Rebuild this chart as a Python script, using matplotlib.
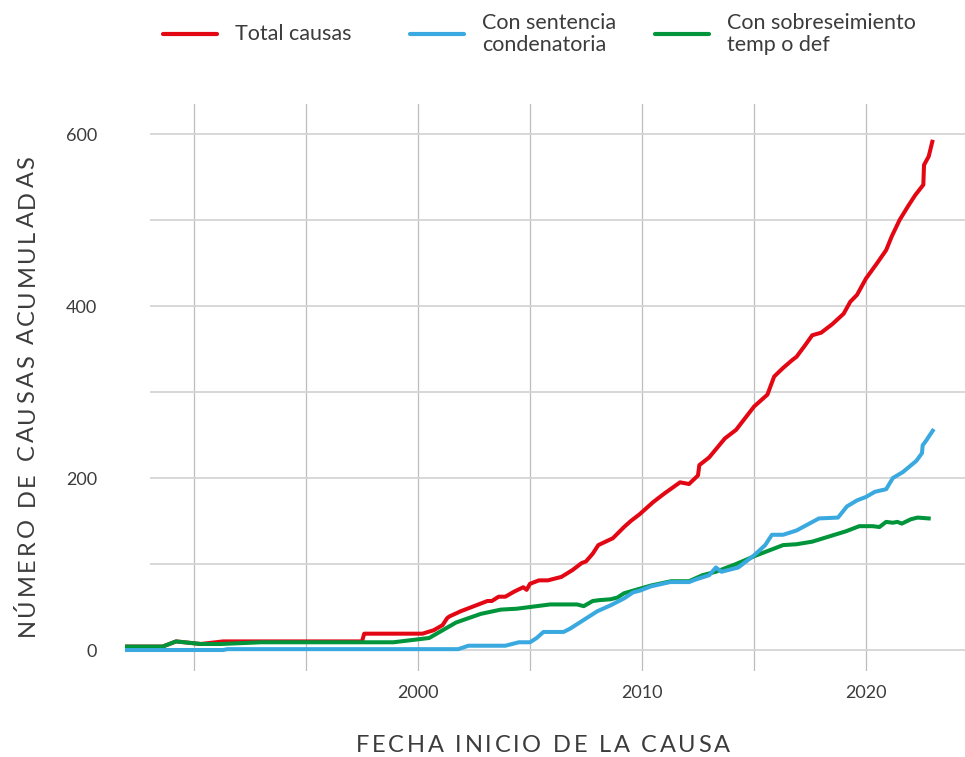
import matplotlib.pyplot as plt
from matplotlib.font_manager import FontProperties
from matplotlib.lines import Line2D

# data (year, accumulated cases)
total_years = [1986.9, 1988.6, 1989.2, 1990.3, 1991.3, 1997.5, 1997.6, 2000.2, 2000.7,
               2001.1, 2001.3, 2001.4, 2001.9, 2003.1, 2003.3, 2003.6, 2003.9, 2004.3,
               2004.7, 2004.85, 2005.0, 2005.4, 2005.8, 2006.4, 2006.9, 2007.3, 2007.5,
               2007.8, 2008.05, 2008.7, 2009.2, 2009.5, 2009.9, 2010.5, 2011.0, 2011.7,
               2012.1, 2012.5, 2012.56, 2013.0, 2013.7, 2014.2, 2015.0, 2015.6, 2015.9,
               2016.3, 2016.7, 2016.9, 2017.3, 2017.6, 2018.0, 2018.5, 2019.0, 2019.3,
               2019.6, 2020.0, 2020.5, 2020.9, 2021.15, 2021.5, 2021.9, 2022.2, 2022.56,
               2022.59, 2022.8, 2022.96]
total_vals = [4, 4, 10, 7, 10, 10, 19, 19, 23,
              29, 37, 39, 45, 57, 57, 62, 62, 68,
              73, 70, 77, 81, 81, 85, 93, 101, 103,
              112, 122, 130, 143, 150, 158, 172, 182, 195,
              193, 203, 215, 224, 246, 256, 283, 297, 318,
              328, 337, 341, 355, 366, 369, 379, 391, 405,
              413, 432, 450, 465, 481, 500, 517, 529, 541,
              564, 574, 591]

conden_years = [1986.9, 1991.3, 1991.5, 2001.8, 2002.25, 2003.9, 2004.5, 2005.0, 2005.3,
                2005.6, 2006.5, 2006.8, 2007.4, 2008.0, 2008.6, 2009.2, 2009.6, 2009.9,
                2010.4, 2011.25, 2012.1, 2012.4, 2013.0, 2013.3, 2013.55, 2014.3, 2015.0,
                2015.5, 2015.8, 2016.3, 2016.9, 2017.9, 2018.75, 2019.15, 2019.6, 2020.0,
                2020.4, 2020.9, 2021.2, 2021.65, 2022.25, 2022.5, 2022.53, 2022.7, 2022.8,
                2022.98]
conden_vals = [0, 0, 1, 1, 5, 5, 9, 9, 14,
               21, 21, 25, 35, 45, 52, 60, 67, 69,
               74, 79, 79, 82, 87, 96, 91, 96, 110,
               122, 134, 134, 139, 153, 154, 167, 174, 178,
               184, 187, 200, 207, 220, 229, 238, 244, 248,
               255]

sobres_years = [1986.9, 1988.6, 1989.2, 1990.3, 1991.2, 1993.0, 1998.9, 2000.5, 2001.1,
                2001.7, 2002.8, 2003.7, 2004.4, 2005.9, 2007.1, 2007.4, 2007.8, 2008.1,
                2008.6, 2008.9, 2009.2, 2010.4, 2011.3, 2012.1, 2012.7, 2013.3, 2014.2,
                2015.1, 2015.7, 2016.3, 2016.9, 2017.6, 2018.1, 2019.1, 2019.7, 2020.3,
                2020.6, 2020.9, 2021.2, 2021.4, 2021.6, 2022.0, 2022.3, 2022.8]
sobres_vals = [4, 4, 10, 7, 7, 9, 9, 14, 23,
               32, 42, 47, 48, 53, 53, 51, 57, 58,
               59, 61, 66, 75, 80, 80, 87, 91, 100,
               110, 116, 122, 123, 126, 130, 138, 144, 144,
               143, 149, 148, 149, 147, 152, 154, 153]

red = "#e30613"
blue = "#3aa9df"
green = "#00953b"
text_col = "#3c3c3c"
font = "Lato"
W, H = 965, 757

fig = plt.figure(figsize=(W / 100, H / 100), dpi=100)
ax = fig.add_axes([125 / W, 86 / H, 840 / W, 567 / H])
ax.set_xlim(1986.92, 2024.42)
ax.set_ylim(-24.4, 634.9)
for s in ax.spines.values():
    s.set_visible(False)

# grid: vertical lines full height, horizontal ones start a bit right
for yr in range(1990, 2021, 5):
    ax.axvline(yr, color="#bdbdbd", lw=0.9, zorder=0)
ax.hlines(range(0, 601, 100), 1988.04, 2024.42, color="#d4d4d4", lw=1.3, zorder=0)

ax.plot(total_years, total_vals, color=red, lw=2.9, solid_joinstyle="round", zorder=2)
ax.plot(sobres_years, sobres_vals, color=green, lw=2.9, solid_joinstyle="round", zorder=3)
ax.plot(conden_years, conden_vals, color=blue, lw=2.9, solid_joinstyle="round", zorder=4)

ax.set_xticks([2000, 2010, 2020])
ax.set_yticks([0, 200, 400, 600])
ax.tick_params(length=0, labelsize=13, labelcolor=text_col)
ax.tick_params(axis="y", pad=20)
ax.tick_params(axis="x", pad=10)
for lab in ax.get_xticklabels() + ax.get_yticklabels():
    lab.set_fontfamily(font)

# axis titles with letter spacing, one character at a time
renderer = fig.canvas.get_renderer()
title_fp = FontProperties(family=font, size=17)


def text_w(s):
    w, _, _ = renderer.get_text_width_height_descent(s, title_fp, ismath=False)
    return w


def spaced_title(s, cx, cy, vertical=False, gap=2.75):
    ref = text_w("I")
    offs = [text_w(s[:i] + "I") - ref + i * gap for i in range(len(s))]
    total = text_w(s) + gap * (len(s) - 1)
    for ch, off in zip(s, offs):
        if ch == " ":
            continue
        if vertical:
            x, y = cx, cy - total / 2 + off
            rot = 90
        else:
            x, y = cx - total / 2 + off, cy
            rot = 0
        fig.text(x / W, y / H, ch, rotation=rot, rotation_mode="anchor",
                 ha="left", va="baseline", fontproperties=title_fp, color=text_col)


spaced_title("FECHA INICIO DE LA CAUSA", 543, H - 752)
spaced_title("NÚMERO DE CAUSAS ACUMULADAS", 34, H - 396, vertical=True)

# legend at the top
legend_items = [
    (163, red, "Total causas"),
    (410, blue, "Con sentencia\ncondenatoria"),
    (655, green, "Con sobreseimiento\ntemp o def"),
]
ly = 1 - 34 / H
for x0, col, lab in legend_items:
    fig.add_artist(Line2D([x0 / W, (x0 + 54) / W], [ly, ly], color=col, lw=3,
                          solid_capstyle="round"))
    fig.text((x0 + 72) / W, ly, lab, ha="left", va="center", fontsize=15.5,
             color=text_col, family=font, linespacing=1.15)

fig.savefig("out.png", dpi=100)
